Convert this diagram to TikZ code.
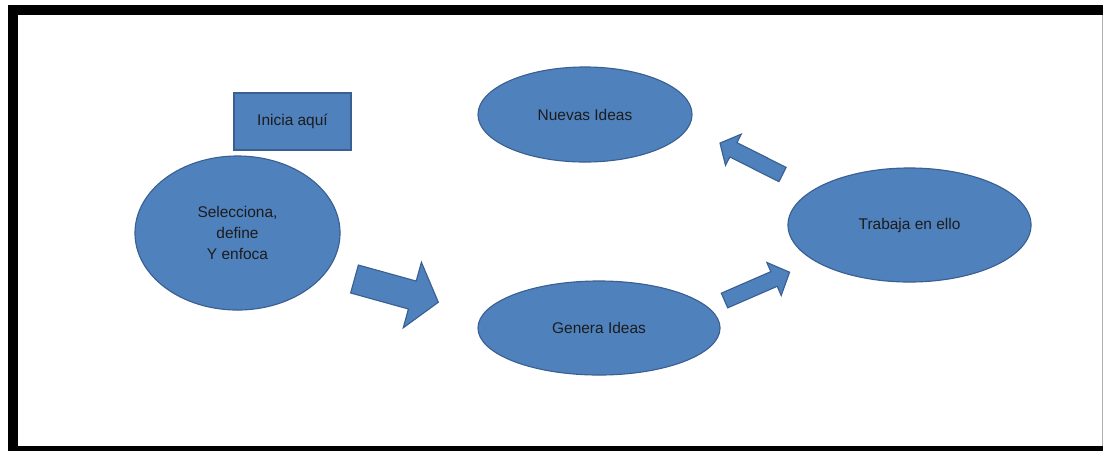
\documentclass[tikz,border=0pt]{standalone}
\usepackage{fontspec}
\setmainfont{Liberation Sans}
\usetikzlibrary{shapes.geometric}
\definecolor{azul}{HTML}{4F81BD}
\definecolor{azulborde}{HTML}{3A6091}
\definecolor{texto}{HTML}{1C1C1C}

\begin{document}
\begin{tikzpicture}[x=0.025cm, y=-0.025cm,
    every node/.style={draw=azulborde, fill=azul, line width=0.8pt, text=texto,
      font=\fontsize{11}{15}\selectfont, align=center, inner sep=0pt},
    burbuja/.style={ellipse},
    caja/.style={rectangle}]
  \useasboundingbox (0,0) rectangle (1103,450);
  \clip (0,0) rectangle (1103,450);
  % marco (el borde derecho queda fuera de la imagen)
  \draw[line width=7.1pt] (13,10) rectangle (1120,451);
  \draw[gray!60, line width=0.7pt] (1102,15) -- (1102,446);
  % flechas de bloque
  \foreach \x/\y/\ang/\len/\s/\h/\hl in {354.5/279/-15.5/87/14.5/34/27,
      724.5/300.5/23.5/71/8/18/17, 782.5/174.5/153.3/70/8/17.5/15} {
    \filldraw[draw=azulborde, fill=azul, line width=0.8pt, shift={(\x,\y)}, rotate=\ang]
      (0,-\s) -- (\len-\hl,-\s) -- (\len-\hl,-\h) -- (\len,0)
      -- (\len-\hl,\h) -- (\len-\hl,\s) -- (0,\s) -- cycle;
  }
  % nodos
  \node[caja, minimum width=2.925cm, minimum height=1.425cm] (inicia) at (292.5,121.5) {Inicia aquí};
  \node[burbuja, minimum width=5.125cm, minimum height=3.85cm] (selecciona) at (237.5,233) {Selecciona,\\define\\Y enfoca};
  \node[burbuja, minimum width=5.35cm, minimum height=2.375cm] (nuevas) at (585,114.5) {Nuevas Ideas};
  \node[burbuja, minimum width=6.05cm, minimum height=2.35cm] (genera) at (599,328) {Genera Ideas};
  \node[burbuja, minimum width=6.075cm, minimum height=2.85cm] (trabaja) at (909.5,225) {Trabaja en ello};
\end{tikzpicture}
\end{document}
